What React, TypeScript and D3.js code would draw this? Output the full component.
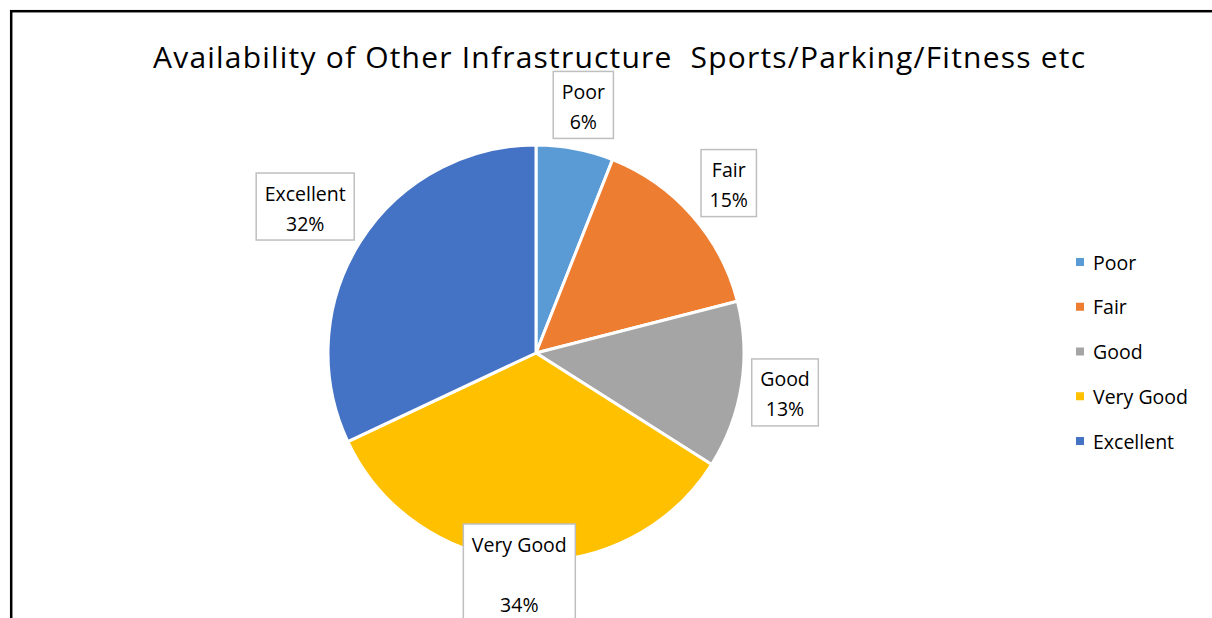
// @ts-nocheck
import { useEffect, useRef } from 'react';
import * as d3 from 'd3';

const title = 'Availability of Other Infrastructure  Sports/Parking/Fitness etc';
const categories = ['Poor', 'Fair', 'Good', 'Very Good', 'Excellent'];
const shares = [6, 15, 13, 34, 32];
const labelTexts = ['Poor\n6%', 'Fair\n15%', 'Good\n13%', 'Very Good\n\n34%', 'Excellent\n32%'];
const colors = ['#5B9BD5', '#ED7D31', '#A5A5A5', '#FFC000', '#4472C4'];

const W = 1212;
const H = 618;
const FONT = '"Open Sans", "Liberation Sans", Arial, sans-serif';

export default function App() {
  const svgRef = useRef<SVGSVGElement>(null);

  useEffect(() => {
    if (!svgRef.current) return;
    const svg = d3.select(svgRef.current);
    svg.selectAll('*').remove();

    svg.append('rect').attr('width', W).attr('height', H).attr('fill', '#fff');

    // outer chart border (right/bottom run off the page)
    svg
      .append('rect')
      .attr('x', 11.2)
      .attr('y', 11.2)
      .attr('width', W + 20)
      .attr('height', H + 20)
      .attr('fill', 'none')
      .attr('stroke', '#000')
      .attr('stroke-width', 2.5);

    svg
      .append('text')
      .attr('x', 153)
      .attr('y', 68)
      .attr('font-family', FONT)
      .attr('font-size', '30px')
      .attr('fill', '#000')
      .attr('textLength', 932)
      .attr('lengthAdjust', 'spacing')
      .attr('xml:space', 'preserve')
      .style('white-space', 'pre')
      .text(title);

    const cx = 536;
    const cy = 353;
    const radius = 208;

    const pie = d3
      .pie<number>()
      .sort(null)
      .value((d) => d);
    const arcs = pie(shares);
    const arc = d3.arc().innerRadius(0).outerRadius(radius);

    const g = svg.append('g').attr('transform', `translate(${cx},${cy})`);
    g.selectAll('path')
      .data(arcs)
      .join('path')
      .attr('d', arc)
      .attr('fill', (d, i) => colors[i])
      .attr('stroke', '#fff')
      .attr('stroke-width', 3)
      .attr('stroke-linejoin', 'round');

    // data labels, boxed, just outside each slice
    const fontSize = 19.5;
    const lineH = 30;
    const gap = 6;
    arcs.forEach((d, i) => {
      const lines = labelTexts[i].split('\n');
      const lg = g.append('g');
      const texts = lines.map((ln) =>
        lg
          .append('text')
          .attr('text-anchor', 'middle')
          .attr('dominant-baseline', 'central')
          .attr('font-family', FONT)
          .attr('font-size', `${fontSize}px`)
          .attr('fill', '#000')
          .text(ln)
      );
      const tw = d3.max(texts, (t) => t.node().getComputedTextLength()) || 0;
      const bw = tw + 17;
      const bh = lines.length * lineH + 7;
      const mid = (d.startAngle + d.endAngle) / 2;
      const ux = Math.sin(mid);
      const uy = -Math.cos(mid);
      const ext = (Math.abs(ux) * bw) / 2 + (Math.abs(uy) * bh) / 2;
      const bx = ux * (radius + gap + ext);
      // keep the box from running far past the chart bottom
      const by = Math.min(uy * (radius + gap + ext), H + 3 - cy - bh / 2);
      lg.insert('rect', 'text')
        .attr('x', bx - bw / 2)
        .attr('y', by - bh / 2)
        .attr('width', bw)
        .attr('height', bh)
        .attr('fill', '#fff')
        .attr('stroke', '#BFBFBF')
        .attr('stroke-width', 1.5);
      texts.forEach((t, k) => {
        t.attr('x', bx).attr('y', by - bh / 2 + 20 + k * lineH);
      });
    });

    // legend
    const legendY = d3.scalePoint().domain(categories).range([262, 441]);
    const leg = svg.append('g');
    categories.forEach((c, i) => {
      const y = legendY(c);
      leg.append('rect')
        .attr('x', 1076)
        .attr('y', y - 4)
        .attr('width', 8)
        .attr('height', 8)
        .attr('fill', colors[i]);
      leg.append('text')
        .attr('x', 1093)
        .attr('y', y)
        .attr('dominant-baseline', 'central')
        .attr('font-family', FONT)
        .attr('font-size', `${fontSize}px`)
        .attr('fill', '#000')
        .text(c);
    });
  }, []);

  return (
    <div style={{ position: 'absolute', left: 0, top: 0 }}>
      <svg ref={svgRef} width={W} height={H} style={{ display: 'block' }} />
    </div>
  );
}
